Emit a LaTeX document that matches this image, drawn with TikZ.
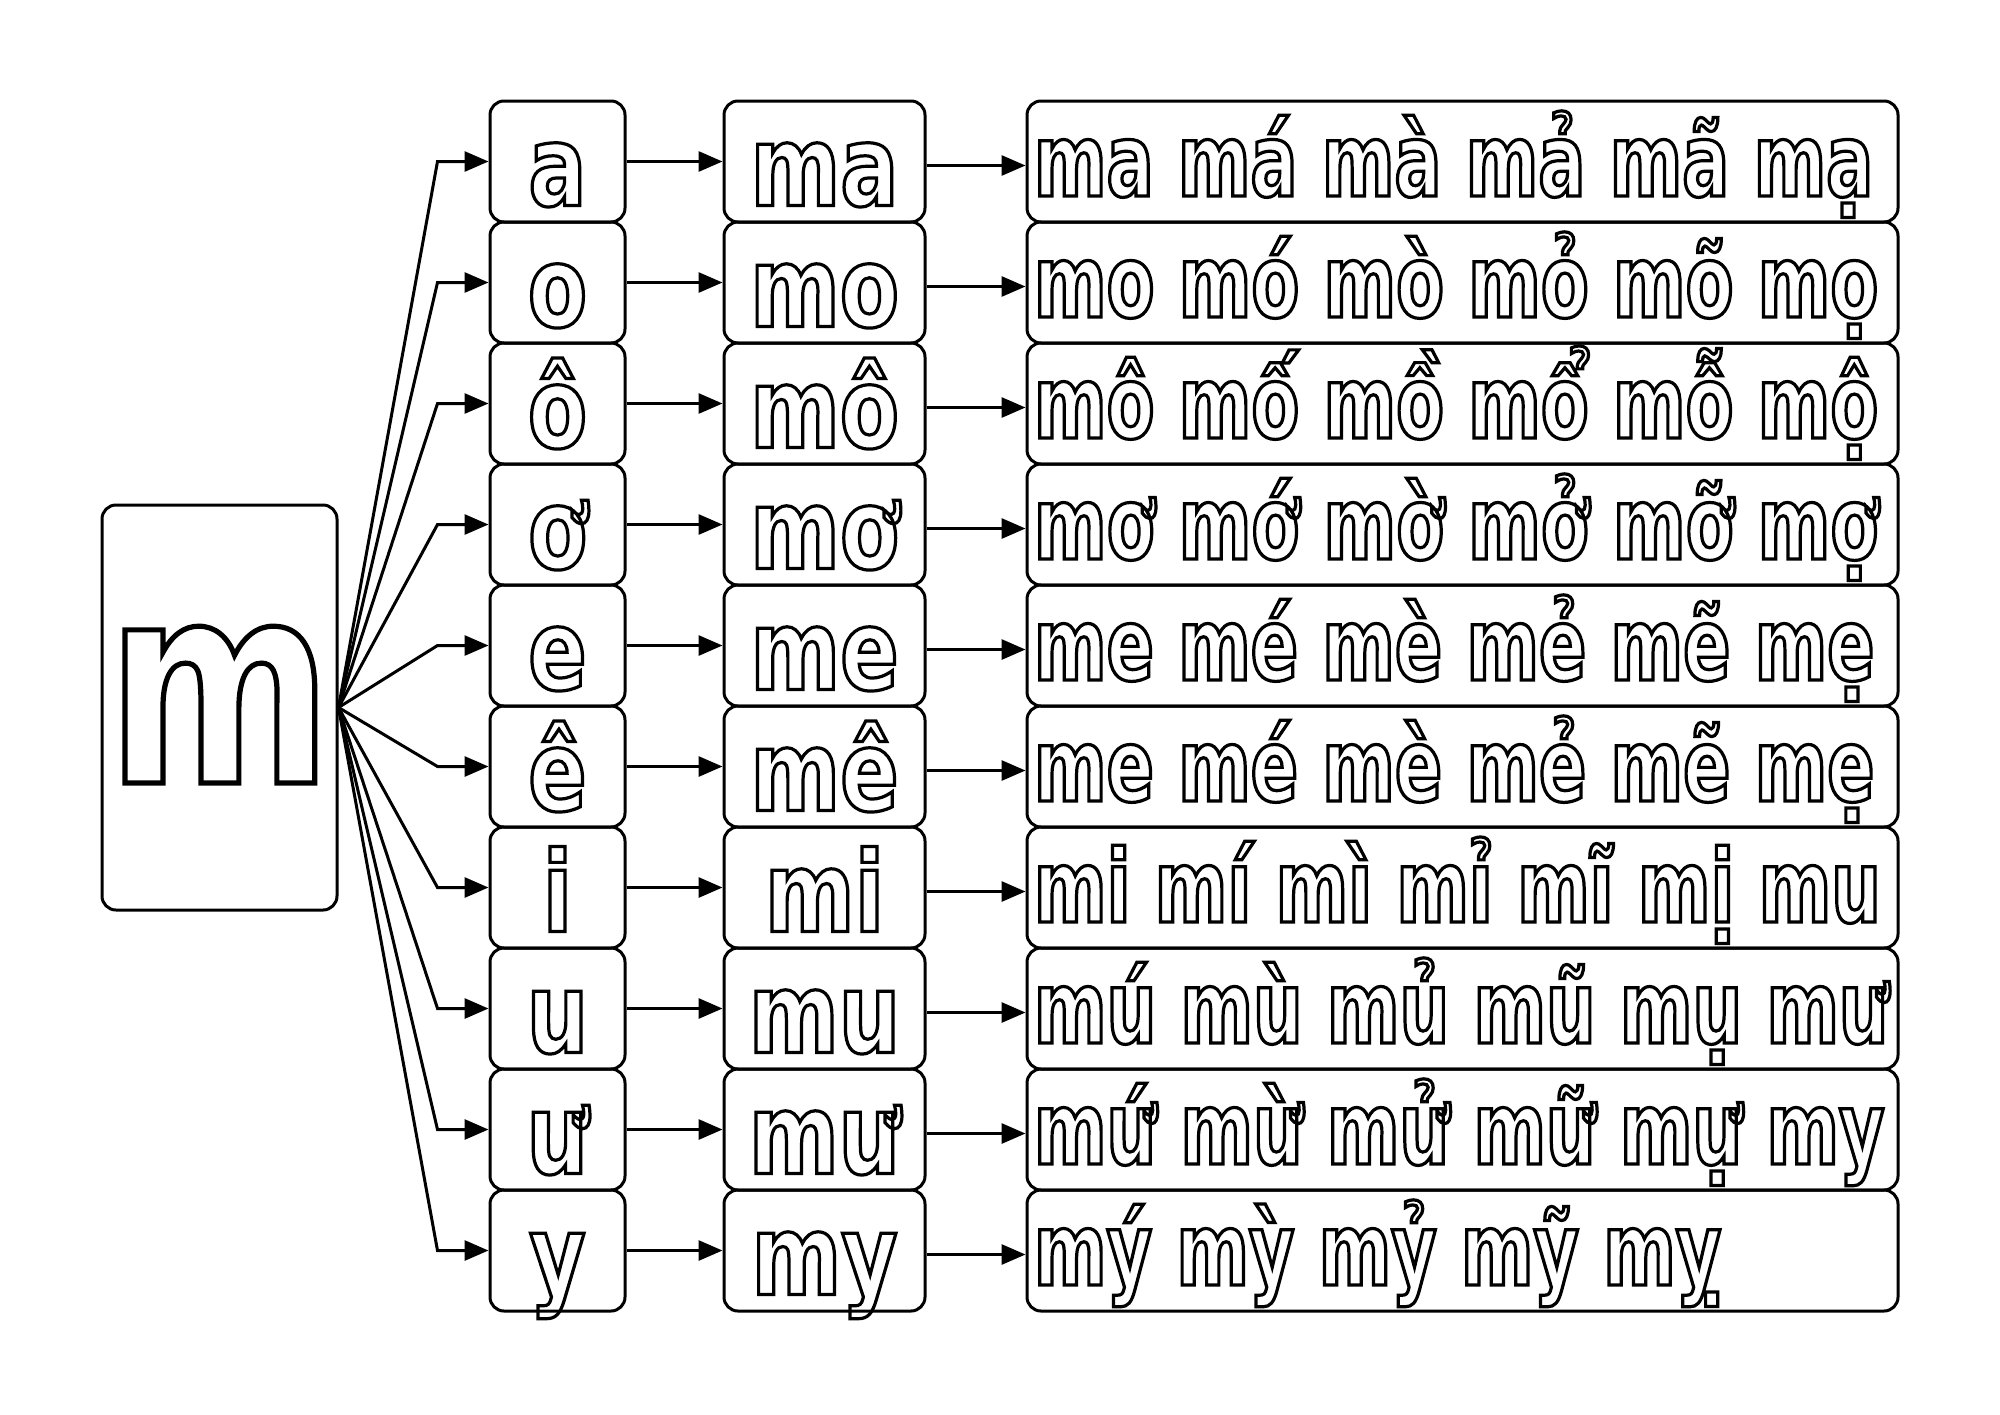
\documentclass[tikz,border=0pt]{standalone}
\usepackage{fontspec}
\usetikzlibrary{arrows.meta}
\newfontfamily\cellfont[FakeStretch=0.77]{DejaVu Sans Bold}
\newfontfamily\rowfont[FakeStretch=0.69]{DejaVu Sans Bold}
\newcommand\hollow[2][1.6]{\special{pdf:literal direct 1 Tr #1 w}#2\special{pdf:literal direct 0 Tr}}
\tikzset{
  box/.style={draw, line width=1.5pt, rounded corners=7pt, inner sep=0pt},
  letter/.style={box, minimum width=67.5pt, minimum height=60.5pt, text height=44pt, text depth=0pt, font=\cellfont\fontsize{56}{56}\selectfont},
  syllable/.style={letter, minimum width=100.5pt},
  tones/.style={box, minimum width=435.5pt, minimum height=60.5pt, inner xsep=3.5pt, text height=34.5pt, text depth=0pt, font=\rowfont\fontsize{50.5}{50.5}\selectfont},
  link/.style={line width=1.5pt, -{Triangle[length=12pt,width=10pt]}}
}

\begin{document}
\begin{tikzpicture}[x=0.5pt,y=-0.5pt]
\useasboundingbox (0,0) rectangle (2000,1414);

\node[box, minimum width=117.5pt, minimum height=202.5pt, text height=75.5pt, text depth=0pt, font=\cellfont\fontsize{140}{140}\selectfont] (m) at (219.5,707.5) {\hollow[2.6]{m}};

\foreach \v/\s/\t [count=\i] in {
  a/ma/{ma má mà mả mã mạ},
  o/mo/{mo mó mò mỏ mõ mọ},
  ô/mô/{mô mố mồ mổ mỗ mộ},
  ơ/mơ/{mơ mớ mờ mở mỡ mợ},
  e/me/{me mé mè mẻ mẽ mẹ},
  ê/mê/{me mé mè mẻ mẽ mẹ},
  i/mi/{mi mí mì mỉ mĩ mị mu},
  u/mu/{mú mù mủ mũ mụ mư},
  ư/mư/{mứ mừ mử mữ mự my},
  y/my/{mý mỳ mỷ mỹ mỵ}}
{
  \node[letter] (v\i) at (557.5,{161.5+121*(\i-1)}) {\hollow{\v}};
  \node[syllable] (s\i) at (824.5,{161.5+121*(\i-1)}) {\hollow{\s}};
  \node[tones] (t\i) at (1462.5,{161.5+121*(\i-1)}) {\makebox[428.5pt][l]{\hollow{\t}}};

  \draw[link] (m.east) -- ([xshift=-25.5pt]v\i.west) -- (v\i.west);
  \draw[link] (v\i.east) -- (s\i.west);
  \draw[link] ([yshift=-2pt]s\i.east) -- ([yshift=-2pt]t\i.west);
}
\end{tikzpicture}
\end{document}
